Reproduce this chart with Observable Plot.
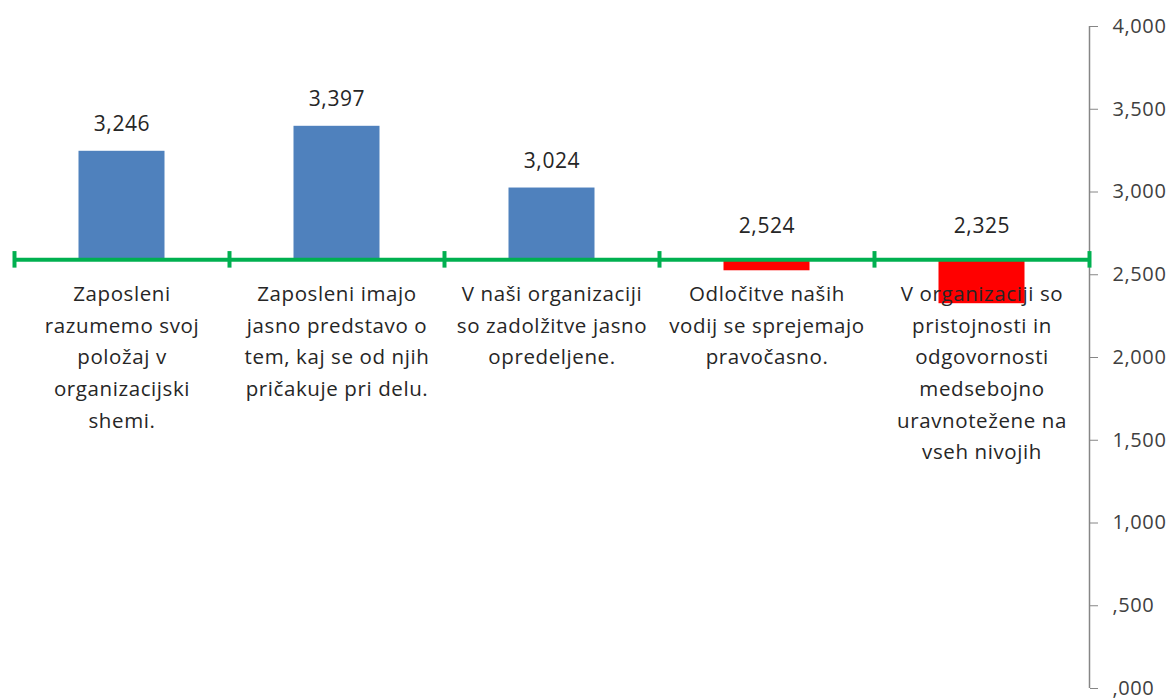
<!DOCTYPE html>
<html>
<head>
<meta charset="utf-8">
<script src="https://cdn.jsdelivr.net/npm/d3@7"></script>
<script src="https://cdn.jsdelivr.net/npm/@observablehq/plot@0.6"></script>
<style>
  html, body { margin: 0; padding: 0; background: #fff; }
  #chart svg { display: block; }
  #chart svg text { letter-spacing: 0.6px; }
</style>
</head>
<body>
<div id="chart"></div>
<script>
const categories = [
  "Zaposleni\nrazumemo svoj\npoložaj v\norganizacijski\nshemi.",
  "Zaposleni imajo\njasno predstavo o\ntem, kaj se od njih\npričakuje pri delu.",
  "V naši organizaciji\nso zadolžitve jasno\nopredeljene.",
  "Odločitve naših\nvodij se sprejemajo\npravočasno.",
  "V organizaciji so\npristojnosti in\nodgovornosti\nmedsebojno\nuravnotežene na\nvseh nivojih"
];
const values = [3.246, 3.397, 3.024, 2.524, 2.325];
const baseline = 2.59;
const yTicks = [0, 0.5, 1, 1.5, 2, 2.5, 3, 3.5, 4];

const fmt = d => d3.format(".3f")(d).replace(".", ",");
const tickFmt = d => fmt(d).replace(/^0/, "");

const data = categories.map((c, i) => ({i, category: c, value: values[i], above: values[i] >= baseline}));
const boundaries = d3.range(categories.length + 1).map(k => k - 0.5);

const font = "'Open Sans', Lato, sans-serif";

const chart = Plot.plot({
  width: 1176,
  height: 700,
  marginLeft: 14,
  marginRight: 87,
  marginTop: 26,
  marginBottom: 12,
  style: {fontFamily: font, background: "#fff"},
  x: {type: "linear", domain: [-0.5, categories.length - 0.5], axis: null},
  y: {domain: [0, 4], axis: null},
  marks: [
    Plot.ruleX([categories.length - 0.5], {y1: 0, y2: 4, stroke: "#868686", strokeWidth: 1.5}),
    Plot.axisY({anchor: "right", ticks: yTicks, tickFormat: tickFmt, tickSize: 8, tickPadding: 15,
      label: null, stroke: "#868686", fill: "#404040", fontSize: 20, fontFamily: font}),
    Plot.rectY(data, {
      x1: d => d.i - 0.2, x2: d => d.i + 0.2,
      y1: baseline, y2: "value",
      fill: d => d.above ? "#4F81BD" : "#FF0000"
    }),
    Plot.ruleY([baseline], {x1: -0.5, x2: categories.length - 0.5, stroke: "#00B050", strokeWidth: 4}),
    Plot.ruleX(boundaries, {y1: baseline - 0.05, y2: baseline + 0.05, stroke: "#00B050", strokeWidth: 4}),
    Plot.text(data.filter(d => d.above), {x: "i", y: "value", text: d => fmt(d.value), dy: -27,
      fontSize: 21, fill: "#262626"}),
    Plot.text(data.filter(d => !d.above), {x: "i", y: baseline, text: d => fmt(d.value), dy: -34,
      fontSize: 21, fill: "#262626"}),
    Plot.text(data, {x: "i", y: baseline, text: "category", lineAnchor: "top", dy: 19,
      lineHeight: 1.54, fontSize: 20.5, fill: "#262626"})
  ]
});
document.getElementById("chart").appendChild(chart);
</script>
</body>
</html>
